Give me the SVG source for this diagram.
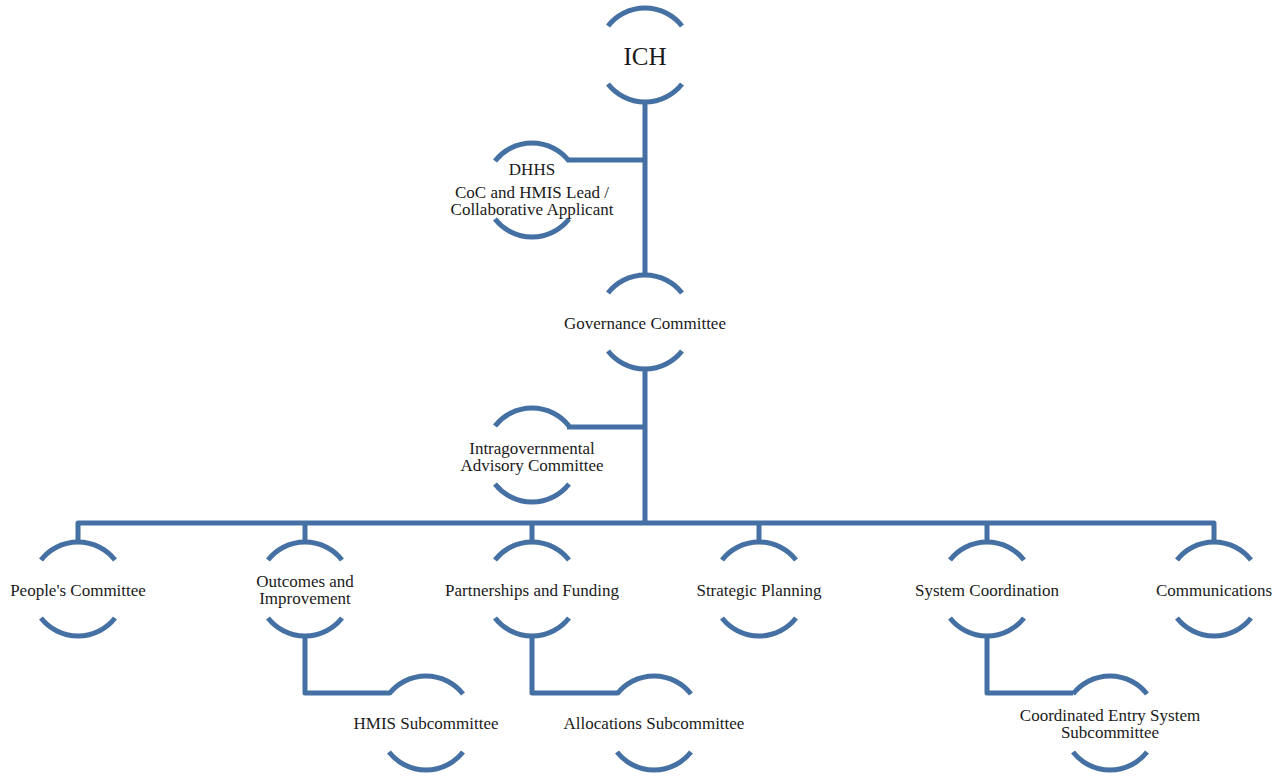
<svg xmlns="http://www.w3.org/2000/svg" width="1287" height="776" viewBox="0 0 1287 776">
<style>
.arc{fill:none;stroke:#4470a4;stroke-width:5;}
.con{fill:none;stroke:#4470a4;stroke-width:5;stroke-linejoin:round;}
text{font-family:"Liberation Serif","Times New Roman",serif;font-size:17px;fill:#1a1a1a;text-anchor:middle;}
.big{font-size:25px;}
</style>
<defs>
<g id="ring">
<path class="arc" d="M -37 -29 A 47 47 0 0 1 37 -29"/>
<path class="arc" d="M -37 29 A 47 47 0 0 0 37 29"/>
</g>
</defs>
<rect width="1287" height="776" fill="#ffffff"/>
<g id="connectors">
<path class="con" d="M 645 102 V 275"/>
<path class="con" d="M 567 160 H 645"/>
<path class="con" d="M 645 369 V 523"/>
<path class="con" d="M 567 427 H 645"/>
<path class="con" d="M 78 542 V 523 H 1214 V 542"/>
<path class="con" d="M 305 523 V 542"/>
<path class="con" d="M 532 523 V 542"/>
<path class="con" d="M 759 523 V 542"/>
<path class="con" d="M 987 523 V 542"/>
<path class="con" d="M 305 636 V 693 H 390"/>
<path class="con" d="M 532 636 V 693 H 618"/>
<path class="con" d="M 987 636 V 693 H 1073"/>
</g>
<g id="ich"><use href="#ring" x="645" y="55"/><text class="big" x="645" y="65">ICH</text></g>
<g id="dhhs"><use href="#ring" x="532" y="190"/><text x="532" y="175">DHHS</text><text x="532" y="198">CoC and HMIS Lead /</text><text x="532" y="215">Collaborative Applicant</text></g>
<g id="governance"><use href="#ring" x="645" y="322"/><text x="645" y="329">Governance Committee</text></g>
<g id="intragov"><use href="#ring" x="532" y="455"/><text x="532" y="454">Intragovernmental</text><text x="532" y="471">Advisory Committee</text></g>
<g id="peoples"><use href="#ring" x="78" y="589"/><text x="78" y="596">People's Committee</text></g>
<g id="outcomes"><use href="#ring" x="305" y="589"/><text x="305" y="587">Outcomes and</text><text x="305" y="604">Improvement</text></g>
<g id="partnerships"><use href="#ring" x="532" y="589"/><text x="532" y="596">Partnerships and Funding</text></g>
<g id="strategic"><use href="#ring" x="759" y="589"/><text x="759" y="596">Strategic Planning</text></g>
<g id="system"><use href="#ring" x="987" y="589"/><text x="987" y="596">System Coordination</text></g>
<g id="communications"><use href="#ring" x="1214" y="589"/><text x="1214" y="596">Communications</text></g>
<g id="hmis"><use href="#ring" x="426" y="723"/><text x="426" y="729">HMIS Subcommittee</text></g>
<g id="allocations"><use href="#ring" x="654" y="723"/><text x="654" y="729">Allocations Subcommittee</text></g>
<g id="ces"><use href="#ring" x="1110" y="723"/><text x="1110" y="721">Coordinated Entry System</text><text x="1110" y="738">Subcommittee</text></g>
</svg>
